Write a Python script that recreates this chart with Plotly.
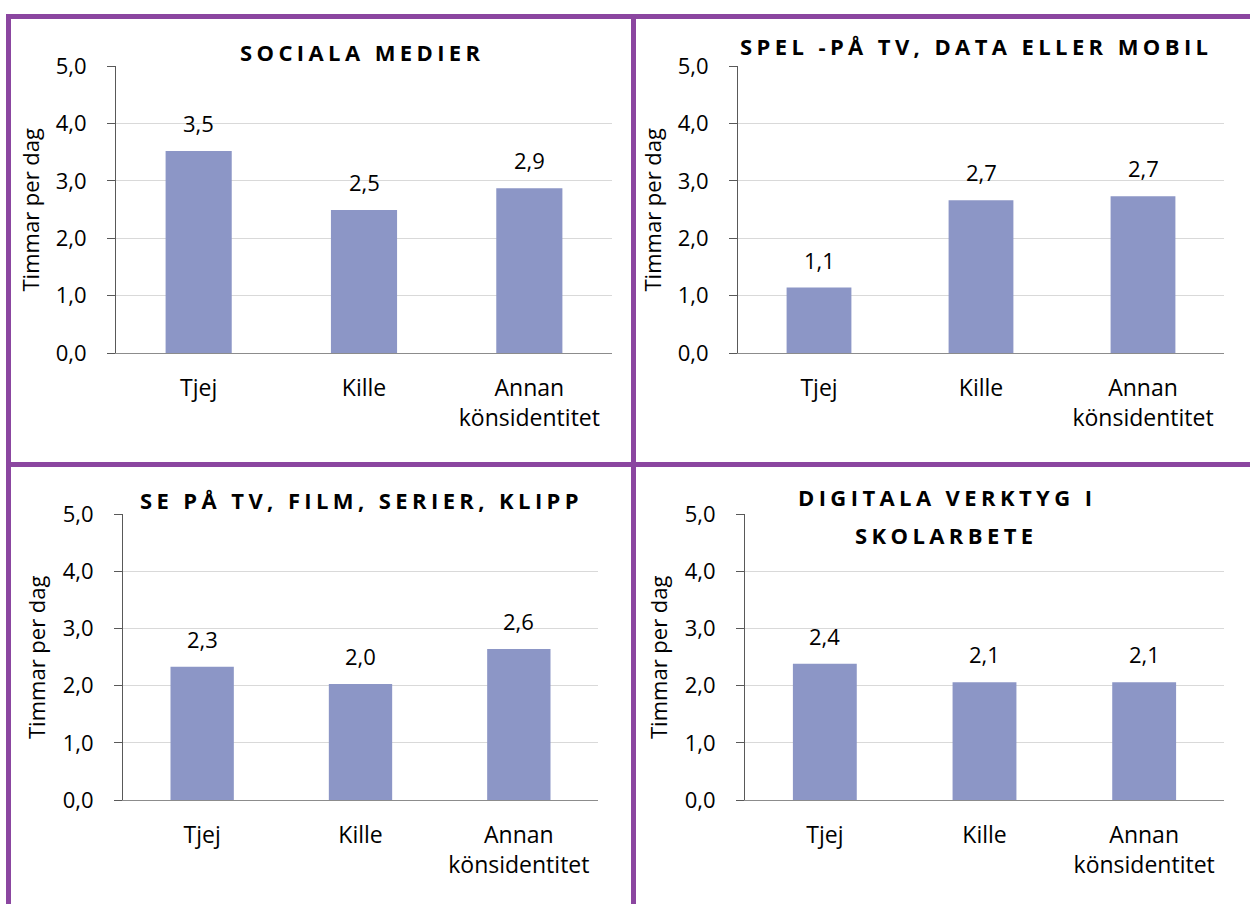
import plotly.graph_objects as go

# Categories and hours per day for each activity
categories = ["Tjej", "Kille", "Annan<br>könsidentitet"]

sociala_medier = [3.52, 2.49, 2.87]
spel = [1.14, 2.66, 2.73]
se_pa_tv = [2.33, 2.03, 2.64]
digitala_verktyg = [2.38, 2.06, 2.06]

panel_titles = [
    ["SOCIALA MEDIER"],
    ["SPEL -PÅ TV, DATA ELLER MOBIL"],
    ["SE PÅ TV, FILM, SERIER, KLIPP"],
    ["DIGITALA VERKTYG I", "SKOLARBETE"],
]

y_ticks = [0, 1, 2, 3, 4, 5]
y_title = "Timmar per dag"

BAR = "#8C96C6"
PURPLE = "#8B46A0"
GRID = "#D9D9D9"
FONT = "Open Sans"
W, H = 1250, 904

# panel geometry in pixels: (x0, x1, y_top, y_bottom)
panels = [
    (116, 612, 66, 353),
    (738, 1224, 66, 353),
    (123, 598, 514, 800),
    (745, 1224, 514, 800),
]
title_pos = [
    [(362, 52)],
    [(976, 46)],
    [(361, 500)],
    [(947, 497), (946, 535)],
]
ytitle_x = [29, 651, 36, 658]
series = [sociala_medier, spel, se_pa_tv, digitala_verktyg]

fig = go.Figure()


def px_x(x):
    return x / W


def px_y(y):
    return 1 - y / H


for i, (vals, (x0, x1, yt, yb)) in enumerate(zip(series, panels)):
    n = i + 1
    xa = "x" if n == 1 else f"x{n}"
    ya = "y" if n == 1 else f"y{n}"
    fig.add_trace(go.Bar(
        x=categories, y=vals, xaxis=xa, yaxis=ya,
        marker=dict(color=BAR, line=dict(width=0)), width=0.4,
        showlegend=False, hoverinfo="skip",
    ))
    xkey = "xaxis" if n == 1 else f"xaxis{n}"
    ykey = "yaxis" if n == 1 else f"yaxis{n}"
    fig.layout[xkey] = dict(
        domain=[px_x(x0), px_x(x1)], anchor=ya, automargin=False,
        showline=True, linecolor="#8C8C8C", linewidth=1.3,
        ticks="", showgrid=False,
        tickfont=dict(family=FONT, size=23, color="#000000"),
        ticklabelstandoff=14,
    )
    fig.layout[ykey] = dict(
        domain=[px_y(yb), px_y(yt)], anchor=xa, automargin=False,
        range=[0, 5], tickvals=y_ticks, tickformat=".1f",
        showline=True, linecolor="#595959", linewidth=1.2,
        ticks="outside", ticklen=8, tickcolor="#595959", tickwidth=1.2,
        showgrid=True, gridcolor=GRID, gridwidth=1, zeroline=False,
        tickfont=dict(family=FONT, size=22, color="#000000"),
        ticklabelstandoff=16,
    )
    # inward half of the cross ticks
    ov = f"yaxis{n + 4}"
    fig.layout[ov] = dict(
        domain=[px_y(yb), px_y(yt)], anchor=xa, overlaying=ya, automargin=False,
        range=[0, 5], tickvals=y_ticks, showticklabels=False,
        ticks="inside", ticklen=8, tickcolor="#595959", tickwidth=1.2,
        showgrid=False, showline=False, zeroline=False,
    )
    # vertical axis title
    fig.add_annotation(
        x=px_x(ytitle_x[i]), y=px_y((yt + yb) / 2), xref="paper", yref="paper",
        text=y_title, textangle=-90, showarrow=False,
        xanchor="center", yanchor="middle",
        font=dict(family=FONT, size=22, color="#000000"),
    )
    # value labels above each bar
    for c, v in zip(categories, vals):
        fig.add_annotation(
            x=c, y=v, xref=xa, yref=ya, text=f"{v:.1f}".replace(".", ","),
            showarrow=False, yanchor="bottom", yshift=11,
            font=dict(family=FONT, size=22, color="#000000"),
        )
    for line, (tx, ty) in zip(panel_titles[i], title_pos[i]):
        fig.add_annotation(
            x=px_x(tx), y=px_y(ty), xref="paper", yref="paper",
            text=f'<span style="letter-spacing:4.4px">{line}</span>',
            showarrow=False, xanchor="center", yanchor="middle",
            font=dict(family=FONT, size=22, color="#000000", weight="bold"),
        )

# purple frame lines around the four panels
frame = [
    (6, 16.5, W, 16.5),
    (8.5, 14, 8.5, H),
    (633.5, 14, 633.5, H),
    (6, 464.5, W, 464.5),
]
for (a, b, c, d) in frame:
    fig.add_shape(type="line", xref="paper", yref="paper",
                  x0=px_x(a), y0=px_y(b), x1=px_x(c), y1=px_y(d),
                  line=dict(color=PURPLE, width=5), layer="above")

fig.update_layout(
    width=W, height=H, margin=dict(l=0, r=0, t=0, b=0),
    paper_bgcolor="white", plot_bgcolor="white",
    separators=", ", bargap=0.6,
    font=dict(family=FONT),
)

fig.write_html("out.html")
